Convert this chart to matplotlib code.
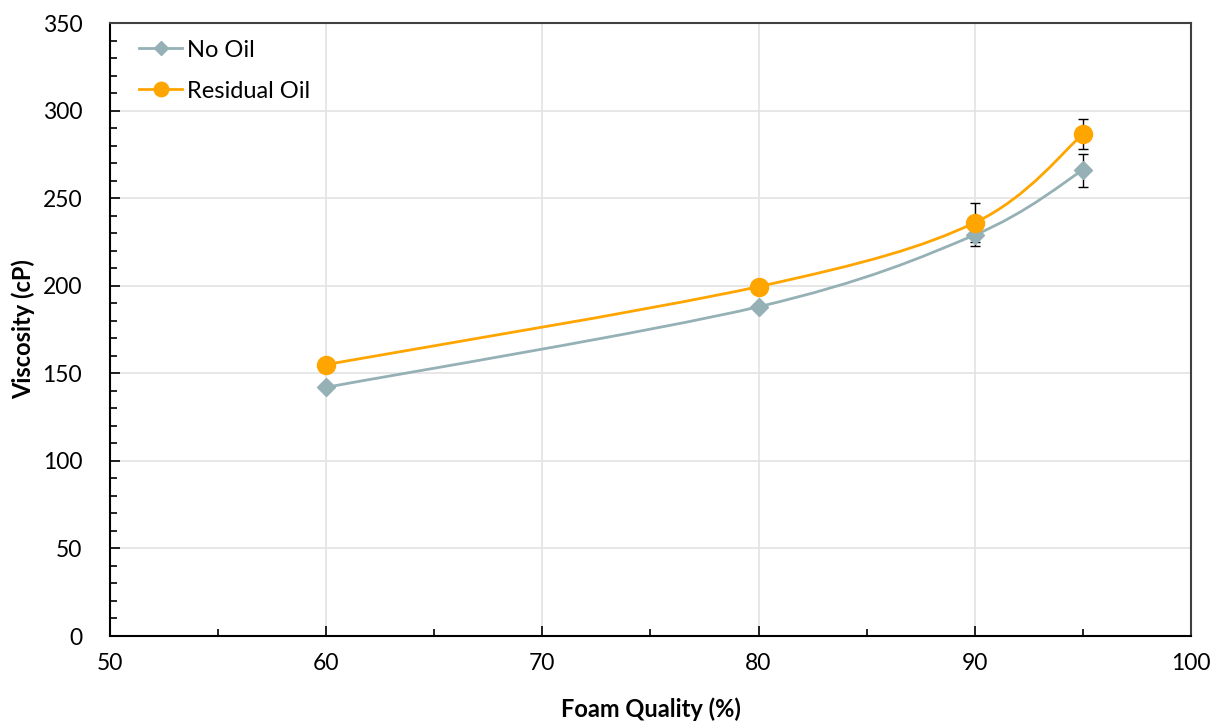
import numpy as np
import matplotlib
matplotlib.use("Agg")
import matplotlib.pyplot as plt
from matplotlib.path import Path
from matplotlib.patches import PathPatch
from matplotlib.ticker import MultipleLocator

plt.rcParams['font.family'] = ['Lato', 'DejaVu Sans']

# data
quality = [60, 80, 90, 95]
no_oil = [142, 188, 229, 266]
no_oil_err = [0, 0, 6.5, 9.5]
residual = [155, 199.5, 236, 286.5]
residual_err = [0, 0, 11, 8.5]

grey = "#95B1B6"
orange = "#FFA500"


def smooth_path(x, y):
    # Excel style smoothed line: cubic bezier through the points
    pts = np.column_stack([x, y]).astype(float)
    n = len(pts)
    verts = [pts[0]]
    codes = [Path.MOVETO]
    for i in range(n - 1):
        p0 = pts[i - 1] if i > 0 else pts[i]
        p1 = pts[i]
        p2 = pts[i + 1]
        p3 = pts[i + 2] if i + 2 < n else pts[i + 1]
        c1 = p1 + (p2 - p0) / 6.0
        c2 = p2 - (p3 - p1) / 6.0
        verts += [c1, c2, p2]
        codes += [Path.CURVE4] * 3
    return Path(verts, codes)


fig = plt.figure(figsize=(12.19, 7.22), dpi=100)
ax = fig.add_axes([0.0902, 0.1191, 0.8868, 0.849])

for xs, ys, err, col, mk, ms, lab in [
    (quality, no_oil, no_oil_err, grey, 'D', 9.5, "No Oil"),
    (quality, residual, residual_err, orange, 'o', 13, "Residual Oil"),
]:
    ax.add_patch(PathPatch(smooth_path(xs, ys), facecolor='none', edgecolor=col,
                           lw=2, zorder=3))
    ax.errorbar(xs, ys, yerr=err, fmt='none', ecolor='black', elinewidth=1,
                capsize=3.5, capthick=1, zorder=4)
    ax.plot(xs, ys, linestyle='none', marker=mk, ms=ms, color=col, zorder=5)
    ax.plot([], [], color=col, lw=2, marker=mk, ms=ms * 0.8, label=lab)

ax.set_xlim(50, 100)
ax.set_ylim(0, 350)
ax.xaxis.set_major_locator(MultipleLocator(10))
ax.xaxis.set_minor_locator(MultipleLocator(5))
ax.yaxis.set_major_locator(MultipleLocator(50))
ax.yaxis.set_minor_locator(MultipleLocator(10))
ax.grid(True, which='major', color='#E3E3E3', lw=1.2, zorder=0)
ax.set_axisbelow(True)
ax.tick_params(which='both', direction='in', labelsize=16.5)
ax.tick_params(which='major', length=7, width=1.2)
ax.tick_params(which='minor', length=5, width=1.2)
ax.tick_params(axis='x', pad=12)
ax.tick_params(axis='y', pad=20)
for s in ['left', 'bottom']:
    ax.spines[s].set_linewidth(1.5)
    ax.spines[s].set_color('black')
for s in ['top', 'right']:
    ax.spines[s].set_linewidth(1.5)
    ax.spines[s].set_color('#404040')

ax.set_xlabel("Foam Quality (%)", fontsize=17, fontweight='bold')
ax.set_ylabel("Viscosity (cP)", fontsize=17, fontweight='bold')
ax.xaxis.set_label_coords(0.5, -0.100)
ax.yaxis.set_label_coords(-0.069, 0.5)

ax.legend(loc='upper left', frameon=False, fontsize=17, handlelength=1.8,
          handletextpad=0.2, labelspacing=0.85, borderaxespad=0.3,
          bbox_to_anchor=(0.012, 1.0))

plt.savefig("out.png", dpi=100)
